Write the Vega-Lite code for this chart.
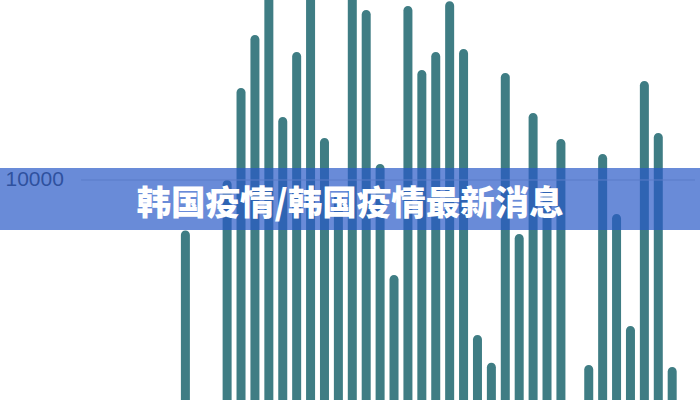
{
  "$schema": "https://vega.github.io/schema/vega-lite/v6.json",
  "width": 700,
  "height": 400,
  "autosize": {"type": "none"},
  "padding": 0,
  "background": "white",
  "config": {"view": {"stroke": null}},
  "layer": [
    {
      "data": {
        "values": [
          {"day": 0, "cases": 7900},
          {"day": 3, "cases": 10000},
          {"day": 4, "cases": 13830},
          {"day": 5, "cases": 16040},
          {"day": 6, "cases": 18000},
          {"day": 7, "cases": 12620},
          {"day": 8, "cases": 15330},
          {"day": 9, "cases": 18000},
          {"day": 10, "cases": 11750},
          {"day": 11, "cases": 9400},
          {"day": 12, "cases": 18000},
          {"day": 13, "cases": 17080},
          {"day": 14, "cases": 10670},
          {"day": 15, "cases": 6040},
          {"day": 16, "cases": 17250},
          {"day": 17, "cases": 14580},
          {"day": 18, "cases": 15330},
          {"day": 19, "cases": 17450},
          {"day": 20, "cases": 15460},
          {"day": 21, "cases": 3540},
          {"day": 22, "cases": 2380},
          {"day": 23, "cases": 14460},
          {"day": 24, "cases": 7750},
          {"day": 25, "cases": 12790},
          {"day": 26, "cases": 9800},
          {"day": 27, "cases": 11710},
          {"day": 29, "cases": 2290},
          {"day": 30, "cases": 11080},
          {"day": 31, "cases": 8580},
          {"day": 32, "cases": 3920},
          {"day": 33, "cases": 14120},
          {"day": 34, "cases": 11960},
          {"day": 35, "cases": 2210}
        ]
      },
      "mark": {"type": "bar", "orient": "vertical", "width": 9, "color": "#3f7d84", "cornerRadiusTopLeft": 4.5, "cornerRadiusTopRight": 4.5, "clip": true},
      "encoding": {
        "x": {"field": "day", "type": "quantitative", "scale": {"domain": [-12.97, 36.64], "nice": false, "zero": false}, "axis": null},
        "y": {
          "field": "cases",
          "type": "quantitative",
          "scale": {"domain": [833, 17500], "nice": false, "zero": false},
          "axis": {
            "values": [10000],
            "orient": "left",
            "grid": false,
            "domain": false,
            "ticks": false,
            "tickSize": 0,
            "labelPadding": -5,
            "labelAlign": "left",
            "labelBaseline": "middle",
            "labelFontSize": 21,
            "labelFont": "Liberation Sans",
            "labelColor": "#3c3c3c",
            "title": null,
            "format": "d"
          }
        },
        "y2": {"datum": 0}
      }
    },
    {
      "data": {"values": [{"level": 10000, "start": -7.5, "end": 36.64}]},
      "mark": {"type": "rule", "color": "#c8c8c8", "strokeWidth": 1},
      "encoding": {
        "x": {"field": "start", "type": "quantitative"},
        "x2": {"field": "end"},
        "y": {"field": "level", "type": "quantitative"}
      }
    },
    {
      "data": {"values": [{"label": "韩国疫情/韩国疫情最新消息"}]},
      "mark": {"type": "rect", "color": "#2a5ac8", "opacity": 0.7},
      "encoding": {
        "x": {"value": 0},
        "x2": {"value": "width"},
        "y": {"datum": 10500, "type": "quantitative"},
        "y2": {"datum": 7917}
      }
    },
    {
      "data": {"values": [{"label": "韩国疫情/韩国疫情最新消息"}]},
      "mark": {"type": "text", "font": "Noto Sans CJK SC", "fontWeight": 900, "fontSize": 34.5, "color": "white", "align": "center", "baseline": "middle"},
      "encoding": {
        "text": {"field": "label", "type": "nominal"},
        "x": {"datum": 11.84, "type": "quantitative"},
        "y": {"datum": 8960, "type": "quantitative"}
      }
    }
  ]
}
